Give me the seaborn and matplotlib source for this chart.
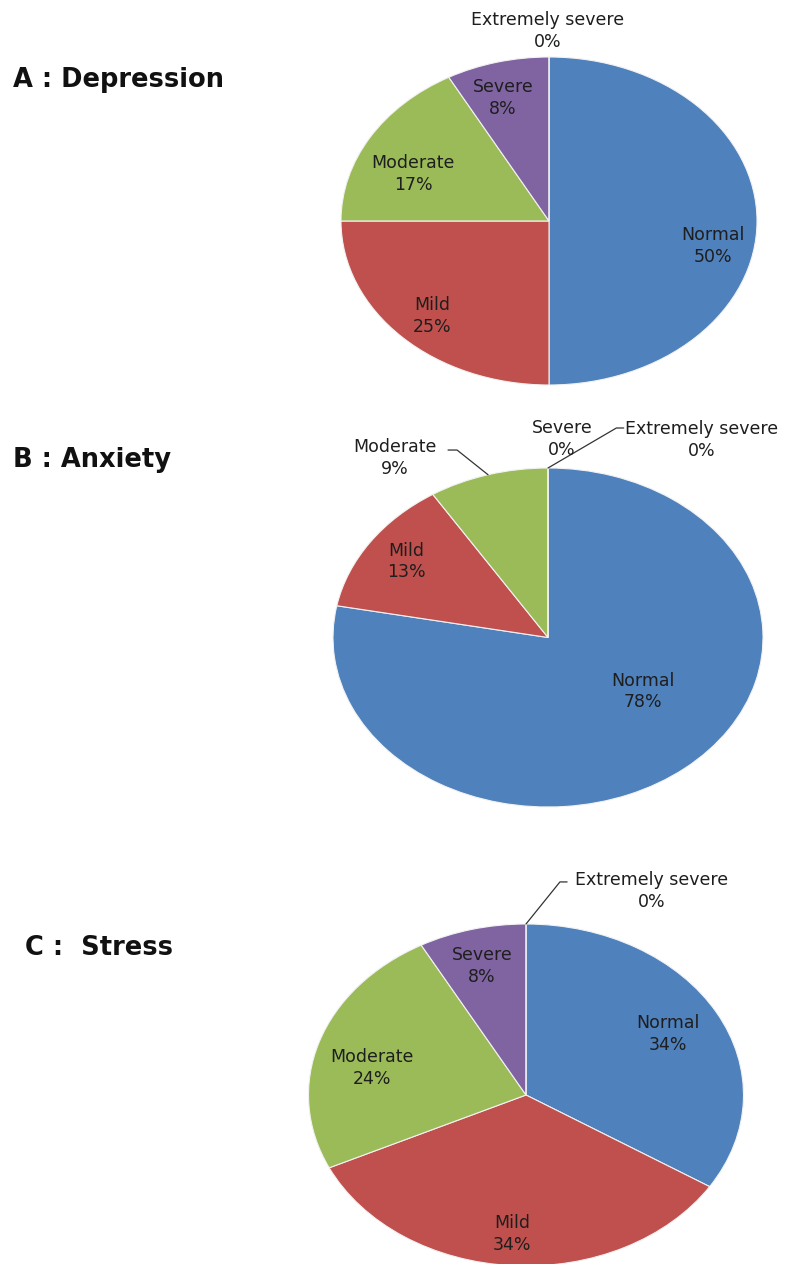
import numpy as np
import matplotlib
matplotlib.use("Agg")
import matplotlib.pyplot as plt
import seaborn as sns

# DASS-21 severity distribution for each scale (percent of respondents)
categories = ["Normal", "Mild", "Moderate", "Severe", "Extremely severe"]
depression = [50, 25, 17, 8, 0]
anxiety = [78, 13, 9, 0, 0]
stress = [34, 34, 24, 8, 0]
titles = ["A : Depression", "B : Anxiety", "C :  Stress"]

sns.set_theme(style="white")
plt.rcParams["font.family"] = ["DejaVu Sans"]
palette = sns.color_palette(["#4F81BD", "#C0504D", "#9BBB59", "#8064A2", "#4BACC6"])

W, H = 785, 1264
fig = plt.figure(figsize=(W / 100, H / 100), dpi=100)
fig.patch.set_facecolor("white")

# Layout (pixels): ellipse centre/radii, title baseline, label anchors in
# unit-ellipse coordinates, and leader-line elbows for the tiny slices.
panels = [
    dict(values=depression, center=(549, 221), radii=(208, 164), title_xy=(13, 87),
         labels=[(0.788, -0.152), (-0.5625, -0.579), (-0.654, 0.287),
                 (-0.221, 0.75), (-0.005, 1.159)],
         leaders={}),
    dict(values=anxiety, center=(548, 637.5), radii=(215, 169.5), title_xy=(13, 467),
         labels=[(0.442, -0.319), (-0.660, 0.448), (-0.712, 1.059),
                 (0.065, 1.17), (0.716, 1.165)],
         leaders={2: [(-0.423, 1.106), (-0.465, 1.106)],
                  4: [(0.318, 1.236), (0.352, 1.236)]}),
    dict(values=stress, center=(526, 1095), radii=(217.5, 171), title_xy=(25, 955),
         labels=[(0.653, 0.357), (-0.064, -0.813), (-0.708, 0.158),
                 (-0.202, 0.754), (0.579, 1.193)],
         leaders={4: [(0.156, 1.246), (0.189, 1.246)]}),
]

text_color = "#1e1e1e"

for panel, title in zip(panels, titles):
    cx, cy = panel["center"]
    rx, ry = panel["radii"]
    ax = fig.add_axes([(cx - rx) / W, 1 - (cy + ry) / H, 2 * rx / W, 2 * ry / H])
    wedges, _ = ax.pie(panel["values"], colors=palette, startangle=90,
                       counterclock=False, radius=1,
                       wedgeprops=dict(edgecolor="#f2f2f2", linewidth=0.8))
    for w in wedges:
        w.set_clip_on(False)
    ax.set_aspect("auto")
    ax.set_xlim(-1, 1)
    ax.set_ylim(-1, 1)
    ax.axis("off")

    for i, (cat, val, (lx, ly)) in enumerate(zip(categories, panel["values"], panel["labels"])):
        ax.text(lx, ly, f"{cat}\n{val}%", ha="center", va="center", fontsize=12.5,
                linespacing=1.27, color=text_color, clip_on=False)
        if i in panel["leaders"]:
            w = wedges[i]
            mid = np.deg2rad((w.theta1 + w.theta2) / 2)
            pts = [(np.cos(mid), np.sin(mid))] + panel["leaders"][i]
            xs, ys = zip(*pts)
            ax.plot(xs, ys, color="#333333", lw=0.9, clip_on=False)

    tx, ty = panel["title_xy"]
    fig.text(tx / W, 1 - ty / H, title, fontsize=18.5, fontweight="bold",
             ha="left", va="baseline", color="#111111")

fig.savefig("out.png", dpi=100, facecolor="white")
